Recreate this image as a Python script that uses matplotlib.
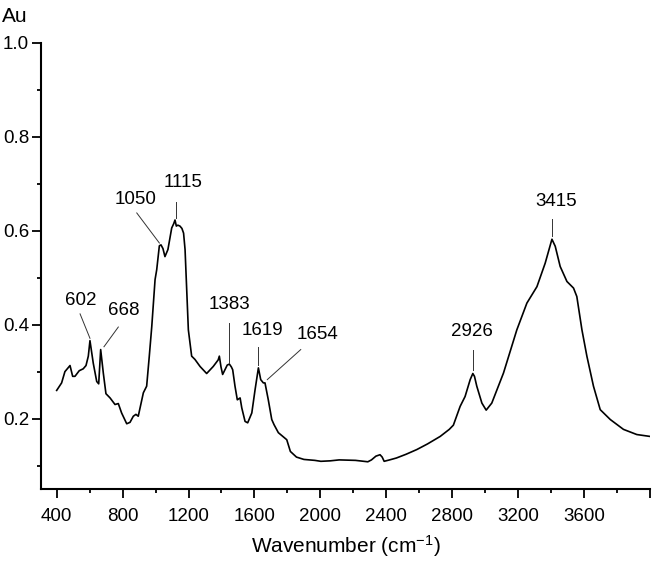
import numpy as np
import matplotlib
matplotlib.use("Agg")
import matplotlib.pyplot as plt
from matplotlib.ticker import MultipleLocator

plt.rcParams['font.family'] = ['Liberation Sans', 'DejaVu Sans']
plt.rcParams['mathtext.fontset'] = 'custom'
plt.rcParams['mathtext.rm'] = 'Liberation Sans'
plt.rcParams['mathtext.it'] = 'Liberation Sans'

# FTIR spectrum
wavenumber = [400, 430, 450, 481, 497, 511, 537, 561, 578, 592, 602, 622, 643, 655, 667,
              683, 699, 724, 754, 774, 794, 825, 845, 865, 881, 895, 926, 946, 962, 977,
              997, 1007, 1023, 1033, 1045, 1057, 1075, 1098, 1110, 1118, 1126, 1135, 1148,
              1160, 1170, 1179, 1189, 1199, 1219, 1239, 1270, 1310, 1350, 1380, 1387, 1397,
              1407, 1421, 1435, 1448, 1460, 1468, 1482, 1496, 1513, 1523, 1543, 1559, 1584,
              1604, 1624, 1638, 1654, 1664, 1684, 1705, 1719, 1745, 1776, 1796, 1818, 1855,
              1900, 1966, 2003, 2060, 2114, 2213, 2288, 2310, 2337, 2362, 2375, 2387, 2420,
              2461, 2520, 2585, 2650, 2727, 2782, 2807, 2848, 2878, 2909, 2925, 2935, 2949,
              2980, 3006, 3040, 3111, 3192, 3253, 3314, 3364, 3384, 3405, 3425, 3455, 3496,
              3536, 3556, 3587, 3617, 3657, 3698, 3759, 3839, 3920, 4000]
absorb = [0.26, 0.276, 0.30, 0.313, 0.29, 0.29, 0.302, 0.306, 0.313, 0.333, 0.366, 0.318,
          0.279, 0.274, 0.347, 0.297, 0.253, 0.244, 0.23, 0.232, 0.212, 0.189, 0.192, 0.205,
          0.209, 0.205, 0.255, 0.269, 0.333, 0.396, 0.496, 0.517, 0.568, 0.57, 0.562, 0.545,
          0.56, 0.606, 0.615, 0.623, 0.61, 0.612, 0.61, 0.605, 0.595, 0.56, 0.474, 0.389,
          0.333, 0.326, 0.311, 0.296, 0.311, 0.325, 0.333, 0.31, 0.294, 0.304, 0.314, 0.316,
          0.31, 0.304, 0.269, 0.24, 0.244, 0.223, 0.194, 0.191, 0.212, 0.262, 0.308, 0.283,
          0.276, 0.276, 0.24, 0.198, 0.187, 0.17, 0.161, 0.155, 0.13, 0.118, 0.113, 0.111,
          0.109, 0.110, 0.112, 0.111, 0.108, 0.112, 0.12, 0.123, 0.118, 0.109, 0.112, 0.116,
          0.124, 0.134, 0.146, 0.162, 0.177, 0.186, 0.226, 0.247, 0.283, 0.296, 0.29, 0.269,
          0.233, 0.218, 0.233, 0.297, 0.389, 0.446, 0.481, 0.531, 0.556, 0.582, 0.567, 0.524,
          0.492, 0.478, 0.46, 0.389, 0.333, 0.269, 0.219, 0.198, 0.177, 0.166, 0.162]

peak_labels = ["602", "668", "1050", "1115", "1383", "1619", "1654", "2926", "3415"]

# label text position, and leader line (start -> end) in data units
label_pos = [(545, 0.452), (805, 0.430), (880, 0.666), (1165, 0.703), (1450, 0.444),
             (1650, 0.387), (1980, 0.380), (2920, 0.386), (3430, 0.663)]
leader = [((542, 0.423), (602, 0.371)), ((774, 0.395), (687, 0.353)),
          ((886, 0.638), (1023, 0.574)), ((1124, 0.662), (1124, 0.627)),
          ((1448, 0.404), (1448, 0.318)), ((1624, 0.353), (1624, 0.315)),
          ((1881, 0.347), (1678, 0.283)), ((2925, 0.347), (2925, 0.304)),
          ((3405, 0.625), (3405, 0.588))]

fig = plt.figure(figsize=(6.69, 5.65), dpi=100)
ax = fig.add_axes([0.0613, 0.1345, 0.9103, 0.7894])

ax.plot(wavenumber, absorb, color="black", lw=1.2)

for lab, (tx, ty), (p0, p1) in zip(peak_labels, label_pos, leader):
    ax.plot([p0[0], p1[0]], [p0[1], p1[1]], color="#333333", lw=0.7)
    ax.text(tx, ty, lab, ha="center", va="center", fontsize=13.5)

ax.set_xlim(305, 4000)
ax.set_ylim(0.05, 1.0)
ax.spines["top"].set_visible(False)
ax.spines["right"].set_visible(False)
ax.spines["left"].set_linewidth(1.5)
ax.spines["bottom"].set_linewidth(1.5)

xt = list(range(400, 4001, 400))
ax.set_xticks(xt)
ax.set_xticklabels([str(v) if v < 4000 else "" for v in xt])
ax.xaxis.set_minor_locator(MultipleLocator(200))
ax.set_yticks([0.2, 0.4, 0.6, 0.8, 1.0])
ax.set_yticklabels(["0.2", "0.4", "0.6", "0.8", "1.0"])
ax.yaxis.set_minor_locator(MultipleLocator(0.1))
ax.tick_params(which="major", direction="out", length=6.5, width=1.3, labelsize=13.5)
ax.tick_params(axis="x", which="major", pad=7)
ax.tick_params(axis="y", which="major", pad=2)
ax.tick_params(which="minor", direction="out", length=3, width=1.3)

ax.set_xlabel("Wavenumber (cm$^{-1}$)", fontsize=15, labelpad=6)
fig.text(0.003, 0.971, "Au", fontsize=15, ha="left", va="center")

fig.savefig("out.png", dpi=100)
